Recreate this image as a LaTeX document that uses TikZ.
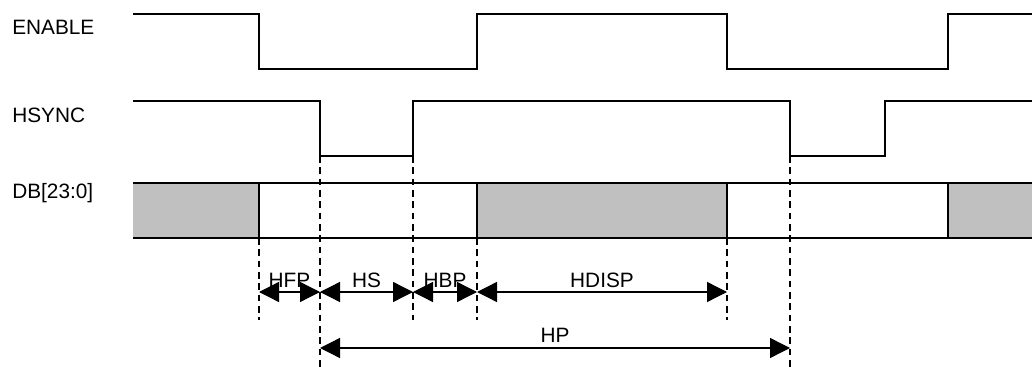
\documentclass[tikz,border=0pt]{standalone}
\usepackage{fontspec}
\setmainfont{Liberation Sans}
\usetikzlibrary{arrows.meta,positioning,calc}
\definecolor{busgray}{RGB}{192,192,192}

\begin{document}
\begin{tikzpicture}[x=0.75pt,y=-0.75pt,
	sig/.style={line width=2pt},
	guide/.style={line width=1.1pt, dash pattern=on 5pt off 3.5pt},
	dim/.style={line width=1pt, {Triangle[length=15pt,width=15pt]}-{Triangle[length=15pt,width=15pt]}},
	lbl/.style={font=\fontsize{15.6}{18}\selectfont, inner sep=0pt}]
				\useasboundingbox (0,0) rectangle (1032,367);
				
				% Timing marks and levels
				\foreach \n/\x in {s/133,a/259,b/320,c/413,d/477,e/727,f/790,g/885,h/948,z/1032} {
					\coordinate (t\n) at (\x,0);
				}
				\foreach \n/\y in {enHi/14,enLo/69,hsHi/101,hsLo/156,dbTop/183,dbBot/238,rowA/292,rowB/348,gEnd/320,gBot/367} {
					\coordinate (\n) at (0,\y);
				}
				
				% Signal names
				\node[lbl, anchor=base west] (en) at (12,35) {ENABLE};
				\node[lbl, anchor=base west] (hs) at (12,123) {HSYNC};
				\node[lbl, anchor=base west] (db) at (12,199) {DB[23:0]};
				
				% Waveforms
				\draw[sig] (ts|-enHi) -| (ta|-enLo) -| (td|-enHi) -| (te|-enLo) -| (th|-enHi) -- (tz|-enHi);
				\draw[sig] (ts|-hsHi) -| (tb|-hsLo) -| (tc|-hsHi) -| (tf|-hsLo) -| (tg|-hsHi) -- (tz|-hsHi);
				
				% Data bus
				\fill[busgray] (ts|-dbTop) rectangle (ta|-dbBot);
				\fill[busgray] (td|-dbTop) rectangle (te|-dbBot);
				\fill[busgray] (th|-dbTop) rectangle (tz|-dbBot);
				\draw[sig] (ts|-dbTop) -- (tz|-dbTop);
				\draw[sig] (ts|-dbBot) -- (tz|-dbBot);
				\foreach \n in {a,d,e,h} {
					\draw[sig] (t\n|-dbTop) -- (t\n|-dbBot);
				}
				
				% Guide lines
				\foreach \n in {a,d,e} {
					\draw[guide] (t\n|-dbBot) -- (t\n|-gEnd);
				}
				\draw[guide] (tc|-hsLo) -- (tc|-gEnd);
				\draw[guide] (tb|-hsLo) -- (tb|-gBot);
				\draw[guide] (tf|-hsLo) -- (tf|-gBot);
				
				% Intervals
				\draw[dim] (ta|-rowA) -- (tb|-rowA) node[midway, above=3pt, lbl] (hfp) {HFP};
				\draw[dim] (tb|-rowA) -- (tc|-rowA) node[midway, above=3pt, lbl] (hsw) {HS};
				\draw[dim] (tc|-rowA) -- (td|-rowA) node[midway, above=3pt, lbl] (hbp) {HBP};
				\draw[dim] (td|-rowA) -- (te|-rowA) node[midway, above=3pt, lbl] (hdisp) {HDISP};
				\draw[dim] (tb|-rowB) -- (tf|-rowB) node[midway, above=3.75pt, lbl] (hp) {HP};
				
			\end{tikzpicture}
\end{document}
